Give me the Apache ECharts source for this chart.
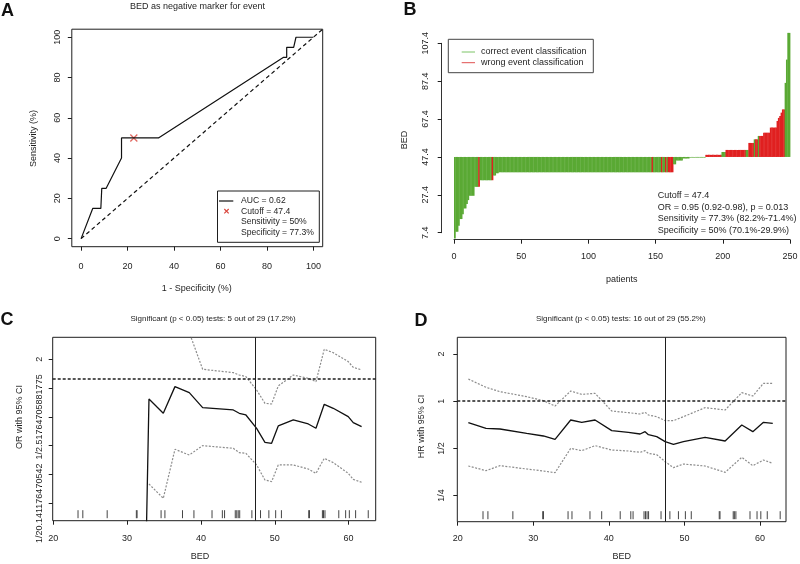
<!DOCTYPE html>
<html><head><meta charset="utf-8">
<script src="https://cdn.jsdelivr.net/npm/echarts@6/dist/echarts.min.js"></script>
<style>html,body{margin:0;padding:0;background:#fff}#c{width:800px;height:564px}</style>
</head><body><div id="c"></div>
<script>
// ---------- Panel A: ROC ----------
const rocFpr  = [0, 5, 8.5, 8.9, 10.8, 17.4, 17.4, 33.3, 87, 88.5, 88.5, 91.5, 92.5, 100];
const rocSens = [0, 15, 15, 25, 25, 40, 50, 50, 90, 90, 95, 95, 100, 100];
const chanceLine = [[0, 0], [104, 104]];
const cutoffPoint = [22.7, 50];
const aTicks = [0, 20, 40, 60, 80, 100];

// ---------- Panel B: waterfall of BED per patient ----------
const bedCutoff = 47.4;
const bedValues = [
  4.4, 7.9, 7.9, 11.1, 14.6, 14.6, 17.2, 20.2, 20.2, 22.5,
  24.6, 26.9, 26.9, 26.9, 26.9, 31.6, 31.6, 31.6, 31.6, 35.1,
  35.1, 35.1, 35.1, 35.1, 35.1, 35.1, 35.1, 35.1, 35.1, 37.6,
  37.6, 38.8, 38.8, 39.3, 39.3, 39.3, 39.3, 39.3, 39.3, 39.3,
  39.3, 39.3, 39.3, 39.3, 39.3, 39.3, 39.3, 39.3, 39.3, 39.3,
  39.3, 39.3, 39.3, 39.3, 39.3, 39.3, 39.3, 39.3, 39.3, 39.3,
  39.3, 39.3, 39.3, 39.3, 39.3, 39.3, 39.3, 39.3, 39.3, 39.3,
  39.3, 39.3, 39.3, 39.3, 39.3, 39.3, 39.3, 39.3, 39.3, 39.3,
  39.3, 39.3, 39.3, 39.3, 39.3, 39.3, 39.3, 39.3, 39.3, 39.3,
  39.3, 39.3, 39.3, 39.3, 39.3, 39.3, 39.3, 39.3, 39.3, 39.3,
  39.3, 39.3, 39.3, 39.3, 39.3, 39.3, 39.3, 39.3, 39.3, 39.3,
  39.3, 39.3, 39.3, 39.3, 39.3, 39.3, 39.3, 39.3, 39.3, 39.3,
  39.3, 39.3, 39.3, 39.3, 39.3, 39.3, 39.3, 39.3, 39.3, 39.3,
  39.3, 39.3, 39.3, 39.3, 39.3, 39.3, 39.3, 39.3, 39.3, 39.3,
  39.3, 39.3, 39.3, 39.3, 39.3, 39.3, 39.3, 39.3, 39.3, 39.3,
  39.3, 39.3, 39.3, 39.3, 39.3, 39.3, 39.3, 39.3, 39.3, 39.3,
  39.3, 39.3, 39.3, 43.5, 43.5, 45.5, 45.5, 45.5, 45.5, 45.5,
  46.6, 46.6, 46.6, 46.6, 46.6, 47.1, 47.1, 47.1, 47.1, 47.1,
  47.1, 47.1, 47.1, 47.1, 47.1, 47.1, 47.1, 48.5, 48.5, 48.5,
  48.5, 48.5, 48.5, 48.5, 48.5, 48.5, 48.5, 48.5, 48.5, 50.0,
  50.0, 50.0, 51.1, 51.1, 51.1, 51.1, 51.1, 51.1, 51.1, 51.1,
  51.1, 51.1, 51.1, 51.1, 51.1, 51.1, 51.1, 51.1, 51.1, 54.8,
  54.8, 54.8, 54.8, 56.7, 56.7, 56.7, 58.5, 58.5, 58.5, 58.5,
  60.2, 60.2, 60.2, 60.2, 60.2, 62.9, 62.9, 62.9, 62.9, 62.9,
  66.4, 68.0, 69.0, 70.8, 72.5, 72.5, 86.5, 98.8, 112.9, 112.9
];
const wrongBars = [19, 29, 148, 155, 158, 160, 161, 162, 163,
  188, 189, 190, 191, 192, 193, 194, 195, 196, 197, 198, 199,
  203, 204, 205, 206, 207, 208, 209, 210, 211, 212, 213, 214, 215, 216, 217,
  220, 221, 222, 223, 225, 226, 228, 229, 230,
  231, 232, 233, 234, 235, 236, 237, 238, 239, 240, 241, 242, 243, 244, 245, 246];

// ---------- Panel C: OR (log2 scale) vs BED cutoff ----------
const cBed     = [32.55, 32.96, 34.90, 36.48, 38.42, 40.23, 44.38, 45.19, 46.09, 47.54, 48.67, 49.57, 50.47, 52.51, 54.54, 55.58, 56.70, 57.92, 59.95, 60.63, 61.76];
const cLog2OR  = [-6.12, -0.709, -1.207, -0.281, -0.489, -1.010, -1.091, -1.207, -1.265, -1.728, -2.214, -2.249, -1.647, -1.438, -1.577, -1.728, -0.895, -1.033, -1.323, -1.531, -1.670];
const cLog2Up  = ['-', 3.0, 2.6, 2.2, 1.6, 0.321, 0.205, 0.124, 0.066, -0.397, -0.860, -0.883, -0.258, 0.124, 0.008, -0.108, 1.015, 0.899, 0.587, 0.390, 0.298];
const cLog2Low = ['-', -3.661, -4.158, -2.457, -2.654, -2.330, -2.422, -2.573, -2.596, -3.001, -3.522, -3.580, -3.001, -3.001, -3.140, -3.290, -2.770, -2.920, -3.290, -3.499, -3.603];
const cTickVals   = [0.668, -0.332, -1.332, -2.332, -3.332, -4.332];
const cTickLabels = ['2', '', '1/2.51764705881775', '', '', '1/20.141176470542'];

// ---------- Panel D: HR (log2 scale) vs BED cutoff ----------
const dBed     = [21.41, 23.75, 25.60, 29.13, 31.34, 32.88, 34.95, 36.41, 38.17, 40.38, 42.58, 44.13, 44.79, 45.23, 46.33, 47.44, 48.54, 49.86, 52.73, 55.38, 57.58, 59.04, 60.45, 61.68];
const dLog2HR  = [-0.455, -0.575, -0.589, -0.681, -0.737, -0.808, -0.398, -0.448, -0.398, -0.624, -0.660, -0.695, -0.645, -0.709, -0.751, -0.857, -0.914, -0.857, -0.766, -0.843, -0.504, -0.645, -0.448, -0.469];
const dLog2Up  = [0.470, 0.294, 0.202, 0.096, 0.011, -0.102, 0.216, 0.145, 0.167, -0.208, -0.243, -0.271, -0.236, -0.292, -0.328, -0.412, -0.412, -0.328, -0.137, -0.186, 0.181, 0.110, 0.379, 0.379];
const dLog2Low = [-1.373, -1.472, -1.366, -1.436, -1.479, -1.514, -0.999, -1.048, -0.942, -1.034, -1.055, -1.083, -1.048, -1.105, -1.133, -1.281, -1.408, -1.331, -1.373, -1.507, -1.189, -1.366, -1.246, -1.316];
const dTickVals   = [1, 0, -1, -2];
const dTickLabels = ['2', '1', '1/2', '1/4'];

// rug of observed BED values (panels C and D)
const rugBed = [23.35, 24.0, 27.3, 31.25, 31.35, 34.6, 35.12, 37.5, 39.05, 41.5, 42.9, 43.2, 44.65, 44.85, 45.05, 45.25, 46.9, 48.07, 49.2, 50.12, 50.9, 54.6, 54.7, 56.45, 56.6, 56.8, 58.67, 59.6, 60.1, 60.95, 62.66];
const bedTicks = [20, 30, 40, 50, 60];

// ---------- styling ----------
const FONT = '"Liberation Sans", Arial, Helvetica, sans-serif';
const INK = '#1e1e1e';
const GREEN = '#5aa934';
const RED = '#e02020';
const CI_GREY = '#8c8c8c';

function pairs(xs, ys) { return xs.map((x, i) => [x, ys[i]]); }
function labelFrom(vals, labels) {
  return function (v) {
    for (let i = 0; i < vals.length; i++) if (Math.abs(v - vals[i]) < 1e-6) return labels[i];
    return '';
  };
}
function axisBase(o) {
  const base = {
    type: 'value',
    splitLine: { show: false },
    axisTick: { length: 4, lineStyle: { color: INK, width: 1 } },
    axisLabel: { fontSize: 9, color: INK, fontFamily: FONT }
  };
  const r = Object.assign(base, o);
  r.axisLine = Object.assign({ show: false, onZero: false }, o.axisLine || {}, { onZero: false });
  return r;
}
function T(x, y, text, o) {
  o = o || {};
  return {
    type: 'text', x: x, y: y, rotation: o.rot || 0, silent: true,
    style: {
      text: text, fill: o.color || INK, fontSize: o.size || 9, fontFamily: FONT,
      fontWeight: o.bold ? 'bold' : 'normal',
      align: o.align || 'center', verticalAlign: 'middle',
      textAlign: o.align || 'center', textVerticalAlign: 'middle'
    }
  };
}
function L(x1, y1, x2, y2, color, w) {
  return { type: 'line', silent: true, shape: { x1: x1, y1: y1, x2: x2, y2: y2 }, style: { stroke: color, lineWidth: w || 1 } };
}
function rugSeries(xi, yMin) {
  return {
    type: 'custom', xAxisIndex: xi, yAxisIndex: xi, silent: true,
    data: rugBed.map(v => [v, yMin]),
    encode: { x: 0, y: 1 },
    renderItem: function (params, api) {
      const p = api.coord([api.value(0), yMin]);
      return { type: 'line', shape: { x1: p[0], y1: p[1] - 2.5, x2: p[0], y2: p[1] - 10.5 }, style: { stroke: '#444', lineWidth: 1 } };
    }
  };
}
function cutoffMarks() {
  return {
    silent: true, symbol: ['none', 'none'], label: { show: false }, animation: false,
    data: [
      { xAxis: bedCutoff, lineStyle: { type: 'solid', color: INK, width: 1 } },
      { yAxis: 0, lineStyle: { type: [3, 2], color: INK, width: 1.5 } }
    ]
  };
}

const wrongSet = new Set(wrongBars);
const barData = bedValues.map((v, i) => [i + 1, v, wrongSet.has(i + 1) ? 1 : 0]);

const chart = echarts.init(document.getElementById('c'), null, { renderer: 'canvas' });
chart.setOption({
  animation: false,
  backgroundColor: '#fff',
  textStyle: { fontFamily: FONT },
  grid: [
    { left: 71.8, top: 29.2, width: 250.9, height: 217.5, show: true, borderColor: INK, borderWidth: 1, containLabel: false, outerBoundsMode: 'none' },
    { left: 454, top: 43.3, width: 336, height: 189.4, show: false, containLabel: false, outerBoundsMode: 'none' },
    { left: 52.7, top: 337.3, width: 323, height: 183.4, show: true, borderColor: INK, borderWidth: 1, containLabel: false, outerBoundsMode: 'none' },
    { left: 457.3, top: 337.3, width: 328.7, height: 184.4, show: true, borderColor: INK, borderWidth: 1, containLabel: false, outerBoundsMode: 'none' }
  ],
  xAxis: [
    axisBase({ gridIndex: 0, min: -4, max: 104,
      axisTick: { length: 4, customValues: aTicks, lineStyle: { color: INK } },
      axisLabel: { customValues: aTicks, margin: 15, fontSize: 9, color: INK, fontFamily: FONT } }),
    axisBase({ gridIndex: 1, min: 0, max: 250, interval: 50, offset: 7,
      axisLine: { show: true, lineStyle: { color: '#333', width: 1 } },
      axisLabel: { margin: 12, fontSize: 9, color: INK, fontFamily: FONT } }),
    axisBase({ gridIndex: 2, min: 19.92, max: 63.67,
      axisTick: { length: 4, customValues: bedTicks, lineStyle: { color: INK } },
      axisLabel: { customValues: bedTicks, margin: 13, fontSize: 9, color: INK, fontFamily: FONT } }),
    axisBase({ gridIndex: 3, min: 19.95, max: 63.43,
      axisTick: { length: 4, customValues: bedTicks, lineStyle: { color: INK } },
      axisLabel: { customValues: bedTicks, margin: 12, fontSize: 9, color: INK, fontFamily: FONT } })
  ],
  yAxis: [
    axisBase({ gridIndex: 0, min: -4, max: 104,
      axisTick: { length: 4, customValues: aTicks, lineStyle: { color: INK } },
      axisLabel: { customValues: aTicks, rotate: 90, margin: 10, fontSize: 9, color: INK, fontFamily: FONT } }),
    axisBase({ gridIndex: 1, min: 7.4, max: 107.4, interval: 20, offset: 12.3,
      axisLine: { show: true, lineStyle: { color: '#333', width: 1 } },
      axisLabel: { rotate: 90, margin: 12, fontSize: 9, color: INK, fontFamily: FONT, formatter: v => v.toFixed(1) } }),
    axisBase({ gridIndex: 2, min: -4.936, max: 1.432,
      axisTick: { length: 4, customValues: cTickVals, lineStyle: { color: INK } },
      axisLabel: { customValues: [cTickVals[0], cTickVals[2], cTickVals[5]], rotate: 90, margin: 9, fontSize: 9, color: INK, fontFamily: FONT,
        formatter: labelFrom(cTickVals, cTickLabels) } }),
    axisBase({ gridIndex: 3, min: -2.553, max: 1.354,
      axisTick: { length: 4, customValues: dTickVals, lineStyle: { color: INK } },
      axisLabel: { customValues: dTickVals, rotate: 90, margin: 11, fontSize: 9, color: INK, fontFamily: FONT,
        formatter: labelFrom(dTickVals, dTickLabels) } })
  ],
  series: [
    // A
    { type: 'line', xAxisIndex: 0, yAxisIndex: 0, data: pairs(rocFpr, rocSens), symbol: 'none',
      lineStyle: { color: '#111', width: 1.2 }, silent: true },
    { type: 'line', xAxisIndex: 0, yAxisIndex: 0, data: chanceLine, symbol: 'none',
      lineStyle: { color: '#111', width: 1.2, type: [4, 3] }, silent: true },
    { type: 'scatter', xAxisIndex: 0, yAxisIndex: 0, data: [cutoffPoint],
      symbol: 'path://M0,0L10,10M10,0L0,10', symbolSize: 7,
      itemStyle: { color: 'none', borderColor: '#d9433a', borderWidth: 1.3 }, silent: true },
    // B
    { type: 'custom', xAxisIndex: 1, yAxisIndex: 1, clip: false, silent: true,
      data: barData, encode: { x: 0, y: 1 },
      renderItem: function (params, api) {
        const i = api.value(0), v = api.value(1), w = api.value(2);
        const a = api.coord([i - 1, bedCutoff]);
        const b = api.coord([i, v]);
        return { type: 'rect',
          shape: { x: a[0], y: Math.min(a[1], b[1]), width: b[0] - a[0] + 0.4, height: Math.max(0.6, Math.abs(b[1] - a[1])) },
          style: { fill: w ? RED : GREEN } };
      } },
    // C
    { type: 'line', xAxisIndex: 2, yAxisIndex: 2, data: pairs(cBed, cLog2OR), symbol: 'none', clip: true,
      lineStyle: { color: '#111', width: 1.3 }, markLine: cutoffMarks(), silent: true },
    { type: 'line', xAxisIndex: 2, yAxisIndex: 2, data: pairs(cBed, cLog2Up), symbol: 'none', clip: true,
      lineStyle: { color: CI_GREY, width: 1.2, type: [2, 1.5] }, silent: true },
    { type: 'line', xAxisIndex: 2, yAxisIndex: 2, data: pairs(cBed, cLog2Low), symbol: 'none', clip: true,
      lineStyle: { color: CI_GREY, width: 1.2, type: [2, 1.5] }, silent: true },
    rugSeries(2, -4.936),
    // D
    { type: 'line', xAxisIndex: 3, yAxisIndex: 3, data: pairs(dBed, dLog2HR), symbol: 'none', clip: true,
      lineStyle: { color: '#111', width: 1.3 }, markLine: cutoffMarks(), silent: true },
    { type: 'line', xAxisIndex: 3, yAxisIndex: 3, data: pairs(dBed, dLog2Up), symbol: 'none', clip: true,
      lineStyle: { color: CI_GREY, width: 1.2, type: [2, 1.5] }, silent: true },
    { type: 'line', xAxisIndex: 3, yAxisIndex: 3, data: pairs(dBed, dLog2Low), symbol: 'none', clip: true,
      lineStyle: { color: CI_GREY, width: 1.2, type: [2, 1.5] }, silent: true },
    rugSeries(3, -2.553)
  ],
  graphic: { elements: [
    // panel letters
    T(7.5, 11.5, 'A', { size: 18, bold: true, color: '#111' }),
    T(410, 10, 'B', { size: 18, bold: true, color: '#111' }),
    T(7, 320.5, 'C', { size: 18, bold: true, color: '#111' }),
    T(421, 321, 'D', { size: 18, bold: true, color: '#111' }),
    // A texts
    T(197.5, 6.5, 'BED as negative marker for event', { size: 9 }),
    T(196.7, 288.3, '1 - Specificity (%)', { size: 9 }),
    T(33.3, 138.5, 'Sensitivity (%)', { size: 9, rot: Math.PI / 2 }),
    { type: 'rect', silent: true, shape: { x: 217.5, y: 191, width: 101.8, height: 51.3 }, style: { fill: '#fff', stroke: INK, lineWidth: 1 } },
    L(219, 201, 233.3, 201, '#111', 1.2),
    L(224.3, 209, 228.7, 213.4, '#d9433a', 1.1),
    L(228.7, 209, 224.3, 213.4, '#d9433a', 1.1),
    T(241, 201, 'AUC = 0.62', { size: 8.6, align: 'left' }),
    T(241, 211.3, 'Cutoff = 47.4', { size: 8.6, align: 'left' }),
    T(241, 221.7, 'Sensitivity = 50%', { size: 8.6, align: 'left' }),
    T(241, 232.2, 'Specificity = 77.3%', { size: 8.6, align: 'left' }),
    // B texts
    T(404.5, 140, 'BED', { size: 9, rot: Math.PI / 2 }),
    T(621.7, 279.5, 'patients', { size: 9 }),
    { type: 'rect', silent: true, shape: { x: 448.3, y: 39.3, width: 145, height: 33.4 }, style: { fill: '#fff', stroke: '#444', lineWidth: 1 } },
    L(461.7, 52, 475, 52, '#7cc466', 1),
    L(461.7, 62.7, 475, 62.7, '#e05050', 1),
    T(481, 52, 'correct event classification', { size: 9, align: 'left' }),
    T(481, 62.7, 'wrong event classification', { size: 9, align: 'left' }),
    T(657.7, 196, 'Cutoff = 47.4', { size: 9, align: 'left' }),
    T(657.7, 207.7, 'OR = 0.95 (0.92-0.98), p = 0.013', { size: 9, align: 'left' }),
    T(657.7, 219, 'Sensitivity = 77.3% (82.2%-71.4%)', { size: 9, align: 'left' }),
    T(657.7, 230.3, 'Specificity = 50% (70.1%-29.9%)', { size: 9, align: 'left' }),
    // C texts
    T(213, 318.3, 'Significant (p < 0.05) tests: 5 out of 29 (17.2%)', { size: 8 }),
    T(20, 417, 'OR with 95% CI', { size: 9, rot: Math.PI / 2 }),
    T(200, 556.7, 'BED', { size: 9 }),
    // D texts
    T(620.8, 318.3, 'Significant (p < 0.05) tests: 16 out of 29 (55.2%)', { size: 8 }),
    T(421.5, 426.5, 'HR with 95% CI', { size: 9, rot: Math.PI / 2 }),
    T(621.7, 556.7, 'BED', { size: 9 })
  ] }
});
</script></body></html>
